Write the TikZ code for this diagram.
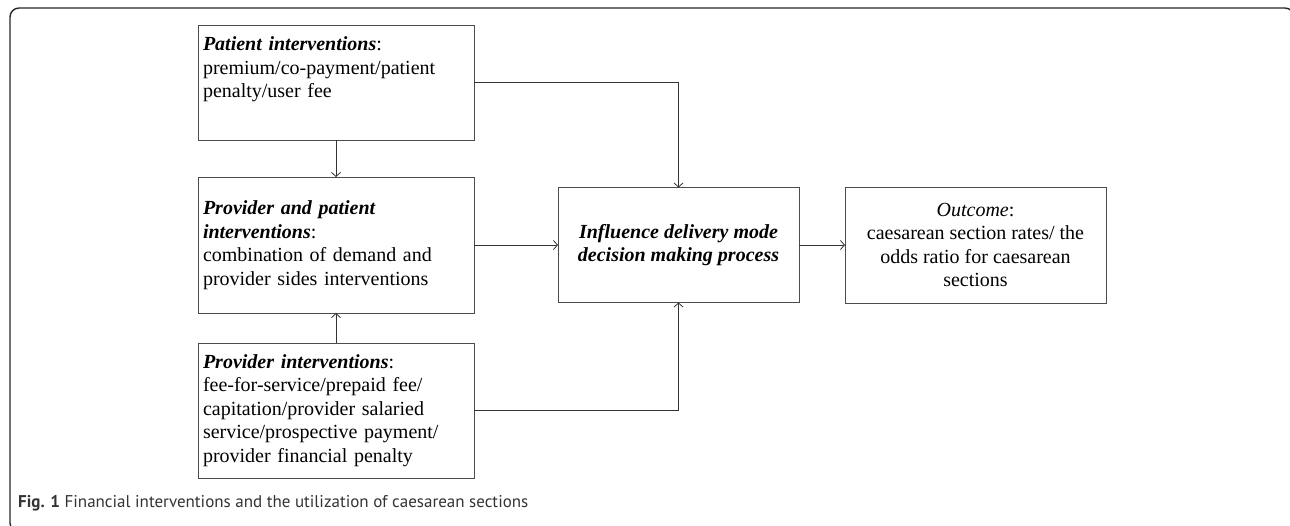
\documentclass[tikz,border=0pt]{standalone}
\usepackage{fontspec}
\setmainfont{Liberation Serif}
\newfontfamily\capfont{PT Sans}
\usetikzlibrary{arrows.meta, positioning}

\begin{document}
\begin{tikzpicture}[
  x=1pt, y=-1pt,
  box/.style={rectangle, draw=black!70, line width=0.8pt, outer sep=0pt, inner sep=5pt, minimum height=115pt},
  leftbox/.style={box, minimum width=276pt, text width=266pt, align=left},
  arr/.style={-{Straight Barb[length=4pt,width=9pt]}, black!80, line width=0.8pt},
  font=\fontsize{20}{23.5}\selectfont
]
\useasboundingbox (0,0) rectangle (1290,525);
\begin{scope}
  \clip (0,0) rectangle (1290,525);
  \draw[black!85, line width=1.4pt, rounded corners=9pt] (10,8) rectangle (1294,532);
\end{scope}
\node[leftbox] (patient) at (336,82.5) {\textbf{\textit{Patient interventions}}:\\premium/co-payment/patient\\penalty/user fee\\ \strut};
\node[leftbox, minimum height=136pt, below=37pt of patient] (provpat) {\textbf{\textit{Provider and patient}}\\\textbf{\textit{interventions}}:\\combination of demand and\\provider sides interventions};
\node[leftbox, minimum height=135pt, below=30pt of provpat] (provider) {\textbf{\textit{Provider interventions}}:\\fee-for-service/prepaid fee/\\capitation/provider salaried\\service/prospective payment/\\provider financial penalty};
\node[box, minimum width=241pt, align=center, right=84pt of provpat] (influence) {\textbf{\textit{Influence delivery mode}}\\\textbf{\textit{decision making process}}};
\node[box, minimum width=261pt, minimum height=116pt, align=center, right=46pt of influence] (outcome) {\textit{Outcome}:\\caesarean section rates/ the\\odds ratio for caesarean\\sections};
\draw[arr] (patient) -- (provpat);
\draw[arr] (provider) -- (provpat);
\draw[arr] (patient.east) -| (influence.north);
\draw[arr] (provider.east) -| (influence.south);
\draw[arr] (provpat) -- (influence);
\draw[arr] (influence) -- (outcome);
\node[anchor=base west, inner sep=0pt, font=\capfont\fontsize{17}{20}\selectfont, text=black!80] (caption) at (18,507) {\textbf{Fig. 1} Financial interventions and the utilization of caesarean sections};
\end{tikzpicture}
\end{document}
